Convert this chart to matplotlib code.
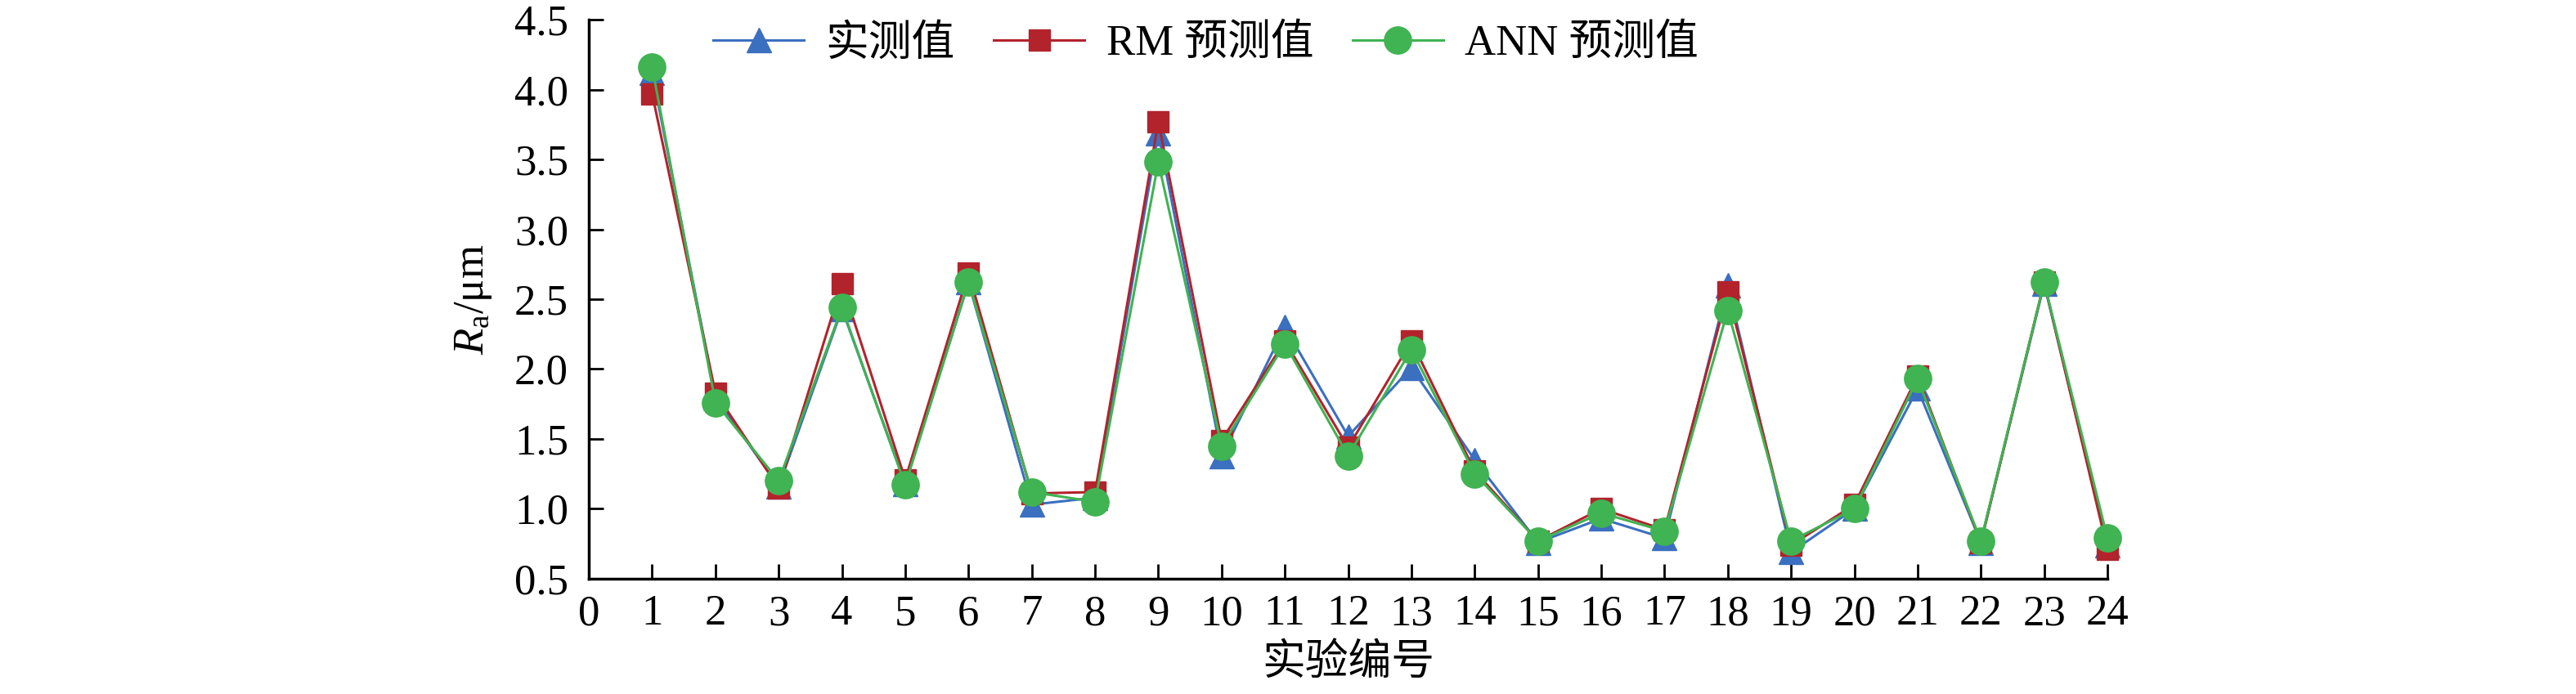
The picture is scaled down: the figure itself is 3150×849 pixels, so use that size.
import matplotlib
matplotlib.use('Agg')
import matplotlib.pyplot as plt

# Fonts: Times-like serif for latin, CJK fallback for Chinese
plt.rcParams['font.family'] = ['Liberation Serif', 'Noto Sans CJK SC']
plt.rcParams['mathtext.fontset'] = 'custom'
plt.rcParams['mathtext.rm'] = 'Liberation Serif'
plt.rcParams['mathtext.it'] = 'Liberation Serif:italic'

# Data
runs = list(range(1, 25))
measured = [4.12, 1.80, 1.16, 2.43, 1.18, 2.62, 1.03, 1.08, 3.69, 1.38, 2.30, 1.52,
            2.01, 1.35, 0.76, 0.93, 0.79, 2.60, 0.69, 1.00, 1.86, 0.76, 2.61, 0.74]
rm_pred = [3.97, 1.83, 1.15, 2.61, 1.21, 2.69, 1.11, 1.12, 3.77, 1.49, 2.20, 1.44,
           2.20, 1.27, 0.77, 1.00, 0.85, 2.55, 0.74, 1.03, 1.95, 0.76, 2.62, 0.71]
ann_pred = [4.16, 1.76, 1.20, 2.44, 1.17, 2.62, 1.12, 1.05, 3.48, 1.45, 2.18, 1.38,
            2.14, 1.25, 0.77, 0.97, 0.84, 2.42, 0.77, 1.00, 1.93, 0.77, 2.62, 0.79]
x_ticks = list(range(0, 25))
y_ticks = [0.5, 1.0, 1.5, 2.0, 2.5, 3.0, 3.5, 4.0, 4.5]

blue = '#3b6fc0'
red = '#b2232c'
green = '#40b352'

fig = plt.figure(figsize=(31.5, 8.49), dpi=100)
ax = fig.add_axes([0.2286, 0.1661, 0.5895, 0.8056])

ax.plot(runs, measured, color=blue, lw=2.2, marker='^', ms=22, label='实测值', clip_on=False)
ax.plot(runs, rm_pred, color=red, lw=2.2, marker='s', ms=19, label='RM 预测值', clip_on=False)
ax.plot(runs, ann_pred, color=green, lw=2.2, marker='o', ms=24, label='ANN 预测值', clip_on=False)

ax.set_xlim(0, 24)
ax.set_ylim(0.5, 4.5)
ax.set_xticks(x_ticks)
ax.set_yticks(y_ticks)
ax.set_yticklabels([f'{v:.1f}' for v in y_ticks])

for s in ['top', 'right']:
    ax.spines[s].set_visible(False)
for s in ['left', 'bottom']:
    ax.spines[s].set_linewidth(2.5)

ax.tick_params(axis='both', direction='in', length=13, width=2, labelsize=38)
ax.tick_params(axis='x', pad=14)
ax.tick_params(axis='y', pad=18)

ax.set_xlabel('实验编号', fontsize=38, labelpad=8)
ax.set_ylabel(r'$R_{\mathrm{a}}$/μm', fontsize=38, labelpad=18)

ax.legend(loc='center left', bbox_to_anchor=(0.082, 0.956), ncol=3, frameon=False,
          fontsize=38, handlelength=2.1, handletextpad=0.5, columnspacing=0.9,
          borderpad=0, borderaxespad=0)

fig.savefig('out.png', dpi=100)
